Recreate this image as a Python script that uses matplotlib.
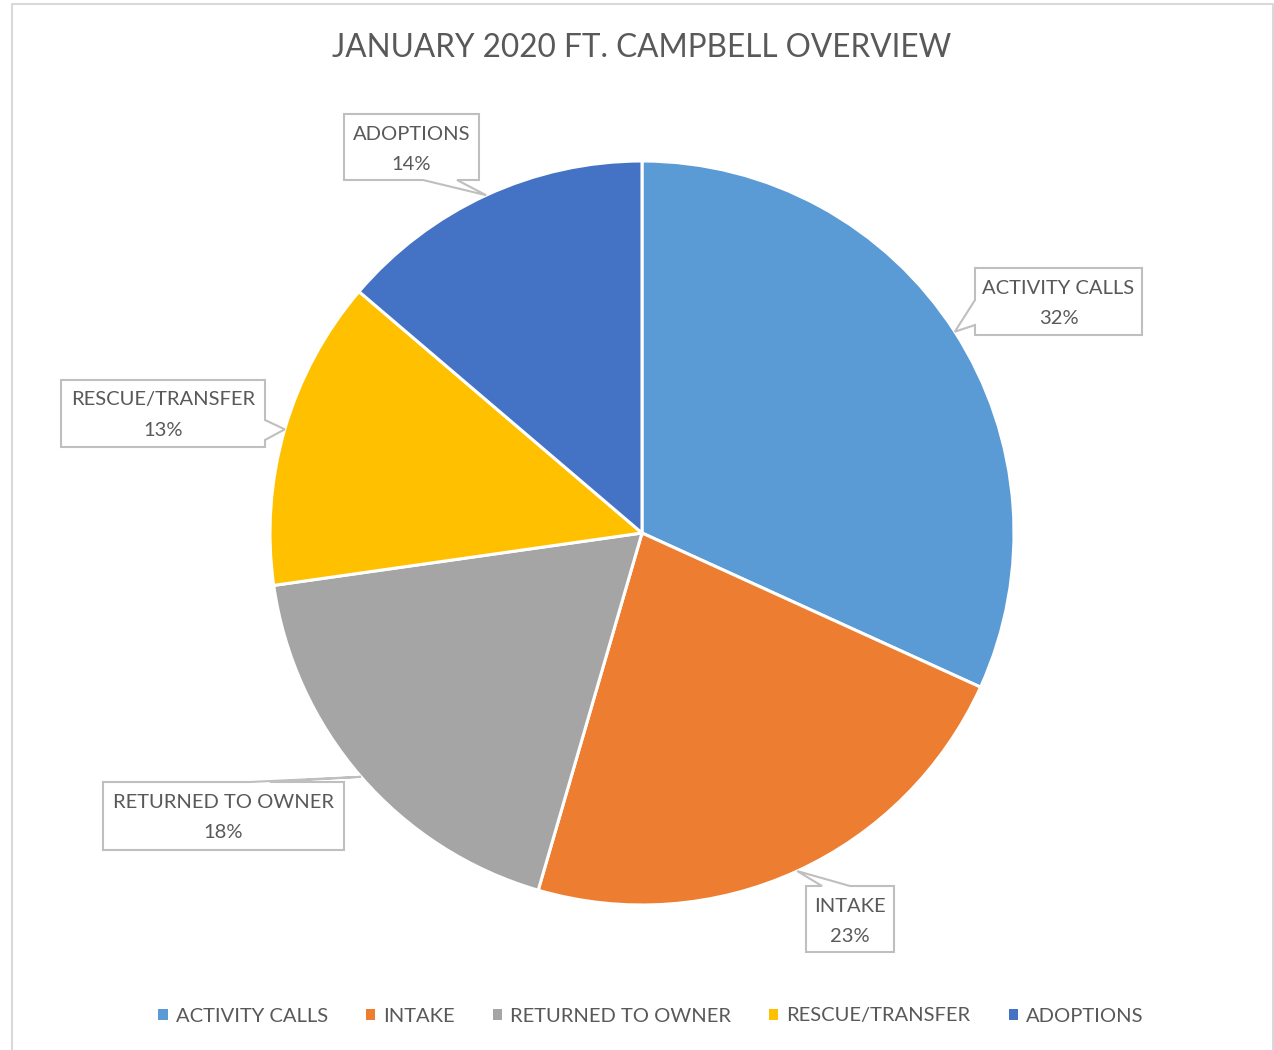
import matplotlib
matplotlib.use("Agg")
import matplotlib.pyplot as plt
import numpy as np
from matplotlib.patches import Polygon, Patch

categories = ["ACTIVITY CALLS", "INTAKE", "RETURNED TO OWNER", "RESCUE/TRANSFER", "ADOPTIONS"]
values = [31.8, 22.7, 18.25, 13.49, 13.76]
colors = ["#5B9BD5", "#ED7D31", "#A5A5A5", "#FFC000", "#4472C4"]
title = "JANUARY 2020 FT. CAMPBELL OVERVIEW"

W, H = 1274, 1050
FONT = ["Lato", "DejaVu Sans"]
TXT = "#595959"

fig = plt.figure(figsize=(W / 100, H / 100), dpi=100)
ax = fig.add_axes([0, 0, 1, 1])

cx, cy, R = 642, H - 533, 372
wedges, _ = ax.pie(values, colors=colors, startangle=90, counterclock=False,
                   center=(cx, cy), radius=R, frame=True,
                   wedgeprops=dict(edgecolor="white", linewidth=2.2))
ax.set_xlim(0, W)
ax.set_ylim(0, H)
ax.set_aspect("equal")
ax.axis("off")

# callout boxes: (x0, y_top, x1, y_bottom) in pixel coords, side of pointer, base interval
boxes = [
    ((975, 268, 1142, 335), "left", (300, 325)),
    ((806, 886, 894, 952), "top", (822, 850)),
    ((103, 782, 344, 850), "top", (250, 270)),
    ((61, 380, 265, 447), "right", (420, 440)),
    ((344, 114, 479, 180), "bottom", (423, 457)),
]

total = sum(values)
for w, val, name, (box, side, base) in zip(wedges, values, categories, boxes):
    mid = np.deg2rad((w.theta1 + w.theta2) / 2)
    tip = (w.center[0] + w.r * np.cos(mid), w.center[1] + w.r * np.sin(mid))
    x0, t, x1, b = box
    yt, yb = H - t, H - b
    if side == "bottom":
        pts = [(x0, yt), (x1, yt), (x1, yb), (base[1], yb), tip, (base[0], yb), (x0, yb)]
    elif side == "top":
        pts = [(x0, yt), (base[0], yt), tip, (base[1], yt), (x1, yt), (x1, yb), (x0, yb)]
    elif side == "left":
        pts = [(x0, yt), (x1, yt), (x1, yb), (x0, yb), (x0, H - base[1]), tip, (x0, H - base[0])]
    else:
        pts = [(x0, yt), (x1, yt), (x1, H - base[0]), tip, (x1, H - base[1]), (x1, yb), (x0, yb)]
    ax.add_patch(Polygon(pts, closed=True, facecolor="white", edgecolor="#BFBFBF",
                         linewidth=1.5, zorder=5, joinstyle="miter"))
    pct = round(val / total * 100)
    xc = (x0 + x1) / 2
    ax.text(xc, H - (t + 20), name, ha="center", va="center", fontsize=14.5,
            color=TXT, family=FONT, zorder=6)
    ax.text(xc, H - (t + 50), f"{pct}%", ha="center", va="center", fontsize=14.5,
            color=TXT, family=FONT, zorder=6)

ax.text(642, H - 48, title, ha="center", va="center", fontsize=22.7, color=TXT, family=FONT)

handles = [Patch(facecolor=c, edgecolor="none") for c in colors]
leg = ax.legend(handles, categories, loc="center", bbox_to_anchor=(0.5 + 14 / W, 34 / H), ncol=5,
                frameon=False, handlelength=0.45, handleheight=0.45, handletextpad=0.4,
                columnspacing=1.9, prop=dict(family=FONT, size=14.5))
for txt in leg.get_texts():
    txt.set_color(TXT)

# chart border
fig.add_artist(plt.Line2D([12 / W, 12 / W, 1273 / W, 1273 / W],
                          [0, 1 - 4 / H, 1 - 4 / H, 0], color="#D9D9D9", linewidth=1.5))

fig.savefig("out.png", dpi=100)
